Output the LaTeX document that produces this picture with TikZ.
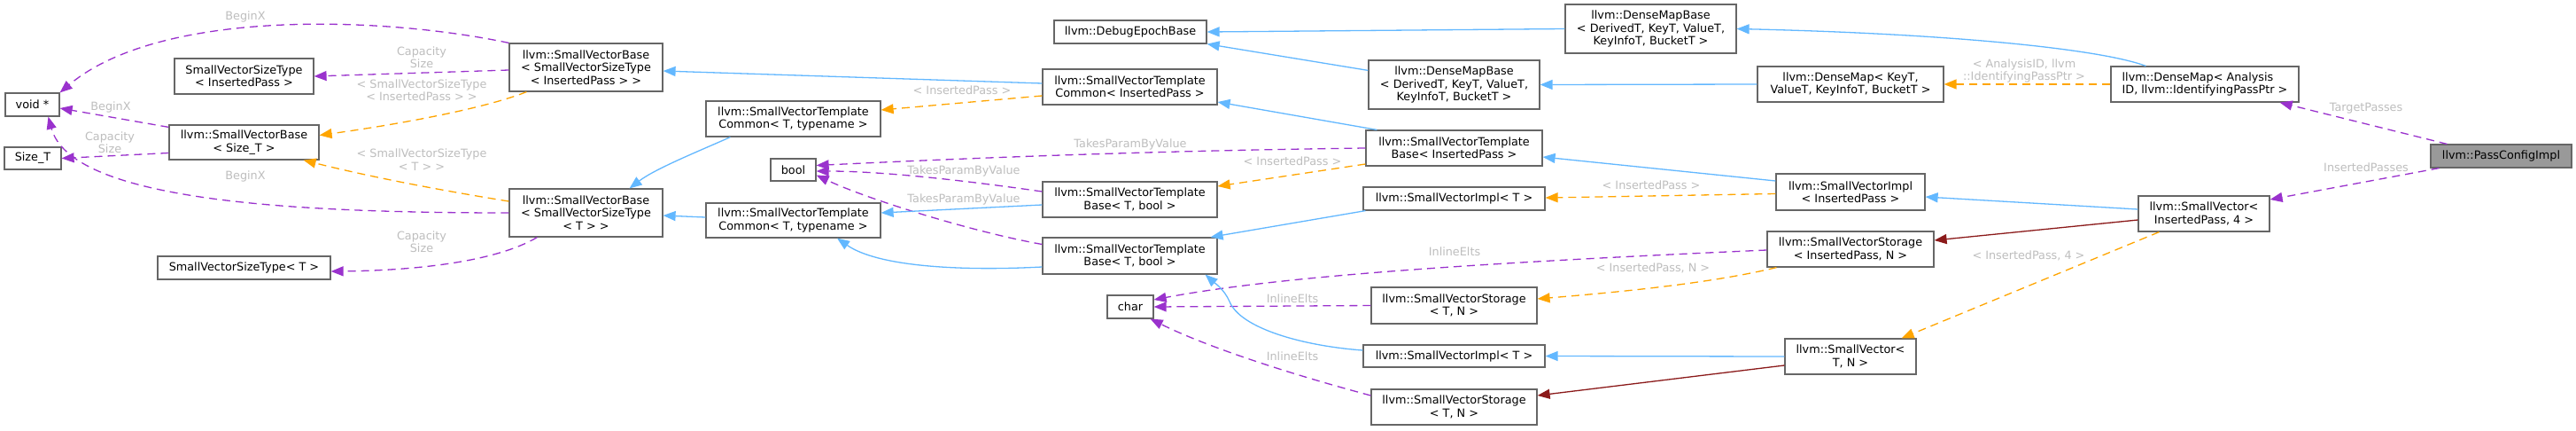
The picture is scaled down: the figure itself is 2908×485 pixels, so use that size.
\documentclass[tikz,border=0pt]{standalone}
\usepackage{fontspec}
\setmainfont{DejaVu Sans}
\usetikzlibrary{arrows.meta,calc}
\definecolor{boxgrey}{HTML}{666666}
\definecolor{lblgrey}{HTML}{BEBEBE}
\definecolor{inhblue}{HTML}{63B8FF}
\definecolor{tmplorange}{HTML}{FFA500}
\definecolor{usepurple}{HTML}{9A32CD}
\definecolor{privred}{HTML}{8B1A1A}
\definecolor{focusgrey}{HTML}{999999}
\newcommand\dxfont{\fontsize{12.8}{14.3}\selectfont}
\tikzset{
  box/.style={draw=boxgrey, fill=white, line width=1.2pt, align=center, inner sep=2pt, font=\dxfont},
  lbl/.style={text=lblgrey, align=center, font=\dxfont, inner sep=0pt},
  tipa/.style={-{Triangle[length=14pt,width=11pt]}},
  inh/.style={color=inhblue, line width=1.3pt, tipa},
  tmpl/.style={color=tmplorange, line width=1.3pt, dash pattern=on 9pt off 6pt, tipa},
  usee/.style={color=usepurple, line width=1.3pt, dash pattern=on 9pt off 6pt, tipa},
  priv/.style={color=privred, line width=1.3pt, tipa}
}
\begin{document}
\begin{tikzpicture}[x=1pt,y={(0pt,-1pt)}]
\useasboundingbox (0,0) rectangle (2908,485);
\fill[white] (0,0) rectangle (2908,485);
% nodes
\node[box, minimum width=61pt, minimum height=26pt] (voidp) at (36.5,118) {void *};
\node[box, minimum width=64pt, minimum height=25pt] (sizet) at (37,178.5) {Size\_T};
\node[box, minimum width=157pt, minimum height=40pt] (svstip) at (275.5,86) {SmallVectorSizeType\\< InsertedPass >};
\node[box, minimum width=169pt, minimum height=39pt] (svbsize) at (275.5,160.5) {llvm::SmallVectorBase\\< Size\_T >};
\node[box, minimum width=173pt, minimum height=54pt] (svbip) at (661.5,76) {llvm::SmallVectorBase\\< SmallVectorSizeType\\< InsertedPass > >};
\node[box, minimum width=173pt, minimum height=54pt] (svbt) at (661.5,240) {llvm::SmallVectorBase\\< SmallVectorSizeType\\< T > >};
\node[box, minimum width=195pt, minimum height=26pt] (svstt) at (275.5,302) {SmallVectorSizeType< T >};
\node[box, minimum width=172pt, minimum height=26pt] (debug) at (1276,36) {llvm::DebugEpochBase};
\node[box, minimum width=197pt, minimum height=40pt] (svtcip) at (1275.5,98) {llvm::SmallVectorTemplate\\Common< InsertedPass >};
\node[box, minimum width=197pt, minimum height=40pt] (svtct1) at (895.5,134) {llvm::SmallVectorTemplate\\Common< T, typename >};
\node[box, minimum width=51pt, minimum height=25pt] (boolN) at (895.5,191.5) {bool};
\node[box, minimum width=197pt, minimum height=40pt] (svtbtb1) at (1275.5,225) {llvm::SmallVectorTemplate\\Base< T, bool >};
\node[box, minimum width=197pt, minimum height=39pt] (svtct2) at (895.5,248.5) {llvm::SmallVectorTemplate\\Common< T, typename >};
\node[box, minimum width=197pt, minimum height=41pt] (svtbtb2) at (1275.5,288.5) {llvm::SmallVectorTemplate\\Base< T, bool >};
\node[box, minimum width=52pt, minimum height=26pt] (charN) at (1276,346) {char};
\node[box, minimum width=193pt, minimum height=55pt] (dmb1) at (1863.5,32.5) {llvm::DenseMapBase\\< DerivedT, KeyT, ValueT,\\KeyInfoT, BucketT >};
\node[box, minimum width=193pt, minimum height=55pt] (dmb2) at (1641.5,95.5) {llvm::DenseMapBase\\< DerivedT, KeyT, ValueT,\\KeyInfoT, BucketT >};
\node[box, minimum width=210pt, minimum height=40pt] (dmk) at (2089,95) {llvm::DenseMap< KeyT,\\ValueT, KeyInfoT, BucketT >};
\node[box, minimum width=199pt, minimum height=40pt] (svtbip) at (1641.5,167) {llvm::SmallVectorTemplate\\Base< InsertedPass >};
\node[box, minimum width=205pt, minimum height=26pt] (svit1) at (1641.5,224) {llvm::SmallVectorImpl< T >};
\node[box, minimum width=168pt, minimum height=41pt] (sviip) at (2089,216.5) {llvm::SmallVectorImpl\\< InsertedPass >};
\node[box, minimum width=188pt, minimum height=40pt] (svsip) at (2089,281) {llvm::SmallVectorStorage\\< InsertedPass, N >};
\node[box, minimum width=187pt, minimum height=41pt] (svstn1) at (1641.5,344.5) {llvm::SmallVectorStorage\\< T, N >};
\node[box, minimum width=205pt, minimum height=25pt] (svit2) at (1641.5,401.5) {llvm::SmallVectorImpl< T >};
\node[box, minimum width=148pt, minimum height=40pt] (svtn) at (2089,402) {llvm::SmallVector<\\T, N >};
\node[box, minimum width=187pt, minimum height=40pt] (svstn2) at (1641.5,459) {llvm::SmallVectorStorage\\< T, N >};
\node[box, align=left, minimum width=212pt, minimum height=40pt] (dma) at (2489,95) {llvm::DenseMap< Analysis\\ID, llvm::IdentifyingPassPtr >};
\node[box, fill=focusgrey, minimum width=159pt, minimum height=26pt] (pci) at (2823.5,176) {llvm::PassConfigImpl};
\node[box, minimum width=148pt, minimum height=40pt] (svip4) at (2488,241) {llvm::SmallVector<\\InsertedPass, 4 >};
% edges
\draw[usee] (svbip.north west) .. controls (430,18) and (180,10) .. (voidp.north east);
\draw[usee] ($(svbip.west)+(0,3)$) -- (svstip.east);
\draw[tmpl] ($(svbip.south west)+(20,0)$) .. controls (540,125) and (430,143) .. ($(svbsize.east)+(0,-8)$);
\draw[usee] ($(svbsize.north west)+(0,3)$) -- ($(voidp.east)+(0,4)$);
\draw[usee] ($(svbsize.west)+(0,12)$) -- (sizet.east);
\draw[tmpl] ($(svbt.west)+(0,-13)$) .. controls (500,215) and (420,200) .. ($(svbsize.south east)+(-18,0)$);
\draw[usee] ($(svbt.west)+(0,0)$) .. controls (320,240) and (80,225) .. ($(voidp.south)+(18,0)$);
\draw[usee] ($(svbt.south west)+(32,0)$) .. controls (560,295) and (470,305) .. ($(svstt.east)+(0,4)$);
\draw[inh] ($(svtcip.west)+(0,-4)$) -- ($(svbip.east)+(0,4)$);
\draw[tmpl] ($(svtcip.west)+(0,10)$) -- ($(svtct1.east)+(0,-10)$);
\draw[inh] ($(svtct1.south west)+(28,0)$) .. controls (790,170) and (740,190) .. ($(svbt.north east)+(-38,0)$);
\draw[inh] ($(svtct2.west)+(0,-3.5)$) -- ($(svbt.east)+(0,3)$);
\draw[usee] (svtbip.west) .. controls (1300,170) and (1100,178) .. ($(boolN.east)+(0,-5)$);
\draw[usee] ($(svtbtb1.west)+(0,-9)$) .. controls (1100,205) and (1000,193) .. ($(boolN.east)+(0,1.5)$);
\draw[usee] ($(svtbtb2.west)+(0,-13)$) .. controls (1100,262) and (980,225) .. ($(boolN.east)+(0,6)$);
\draw[inh] ($(svtbtb1.west)+(0,6)$) -- ($(svtct2.east)+(0,-8.5)$);
\draw[inh] ($(svtbtb2.west)+(0,12.5)$) .. controls (1080,306) and (990,300) .. ($(svtct2.south)+(49.5,0)$);
\draw[inh] ($(svtbip.north west)+(13,0)$) -- ($(svtcip.east)+(0,17)$);
\draw[tmpl] ($(svtbip.west)+(0,18)$) -- ($(svtbtb1.east)+(0,-15)$);
\draw[inh] ($(dmb2.north west)+(0,12)$) -- (debug.south east);
\draw[inh] (dmb1.west) -- (debug.east);
\draw[inh] (dmk.west) -- (dmb2.east);
\draw[inh] ($(dma.north west)+(40,0)$) .. controls (2370,55) and (2200,38) .. (dmb1.east);
\draw[tmpl] (dma.west) -- (dmk.east);
\draw[usee] ($(pci.north west)+(19,0)$) -- ($(dma.south east)+(-22,0)$);
\draw[usee] ($(pci.south west)+(10,0)$) -- ($(svip4.east)+(0,-16)$);
\draw[inh] ($(svip4.west)+(0,-5)$) -- ($(sviip.east)+(0,5.5)$);
\draw[priv] ($(svip4.west)+(0,7)$) -- ($(svsip.east)+(0,-10)$);
\draw[tmpl] ($(svip4.south west)+(24,0)$) -- ($(svtn.north east)+(-17,0)$);
\draw[inh] ($(sviip.west)+(0,-12.5)$) -- ($(svtbip.east)+(0,10)$);
\draw[tmpl] ($(sviip.west)+(0,2)$) -- ($(svit1.east)+(0,-1)$);
\draw[usee] ($(svsip.west)+(0,1)$) .. controls (1700,295) and (1450,310) .. ($(charN.east)+(0,-8)$);
\draw[tmpl] ($(svsip.south west)+(11,0)$) .. controls (1930,320) and (1820,330) .. ($(svstn1.east)+(0,-7.5)$);
\draw[usee] (svstn1.west) -- (charN.east);
\draw[usee] ($(svstn2.west)+(0,-13)$) .. controls (1450,420) and (1360,390) .. ($(charN.south east)+(-4,0)$);
\draw[inh] ($(svit2.west)+(0,-6.5)$) .. controls (1470,390) and (1400,370) .. (1388,340) .. controls (1382,326) and (1370,318) .. ($(svtbtb2.south east)+(-14,0)$);
\draw[inh] ($(svit1.south west)+(3,0)$) -- ($(svtbtb2.north east)+(-8,0)$);
\draw[inh] (svtn.west) -- (svit2.east);
\draw[priv] ($(svtn.west)+(0,10)$) -- ($(svstn2.east)+(0,-13)$);
% labels
\node[lbl] (l1) at (277,19) {BeginX};
\node[lbl] (l2) at (476,65) {Capacity\\Size};
\node[lbl] (l3) at (476,102) {< SmallVectorSizeType\\< InsertedPass > >};
\node[lbl] (l4) at (125,121) {BeginX};
\node[lbl] (l5) at (124,161) {Capacity\\Size};
\node[lbl] (l6) at (476,180) {< SmallVectorSizeType\\< T > >};
\node[lbl] (l7) at (277,199) {BeginX};
\node[lbl] (l8) at (476,273) {Capacity\\Size};
\node[lbl] (l9) at (1086,102) {< InsertedPass >};
\node[lbl] (l10) at (1276,163) {TakesParamByValue};
\node[lbl] (l11) at (1088,193) {TakesParamByValue};
\node[lbl] (l12) at (1088,225) {TakesParamByValue};
\node[lbl] (l13) at (1459,182) {< InsertedPass >};
\node[lbl] (l14) at (2285,80) {< AnalysisID, llvm\\::IdentifyingPassPtr >};
\node[lbl] (l15) at (2671,122) {TargetPasses};
\node[lbl] (l16) at (2671,189) {InsertedPasses};
\node[lbl] (l17) at (1864,209) {< InsertedPass >};
\node[lbl] (l18) at (1642,284) {InlineElts};
\node[lbl] (l19) at (1866,302) {< InsertedPass, N >};
\node[lbl] (l20) at (1459,337) {InlineElts};
\node[lbl] (l21) at (1459,402) {InlineElts};
\node[lbl] (l22) at (2290,288) {< InsertedPass, 4 >};
\end{tikzpicture}
\end{document}
